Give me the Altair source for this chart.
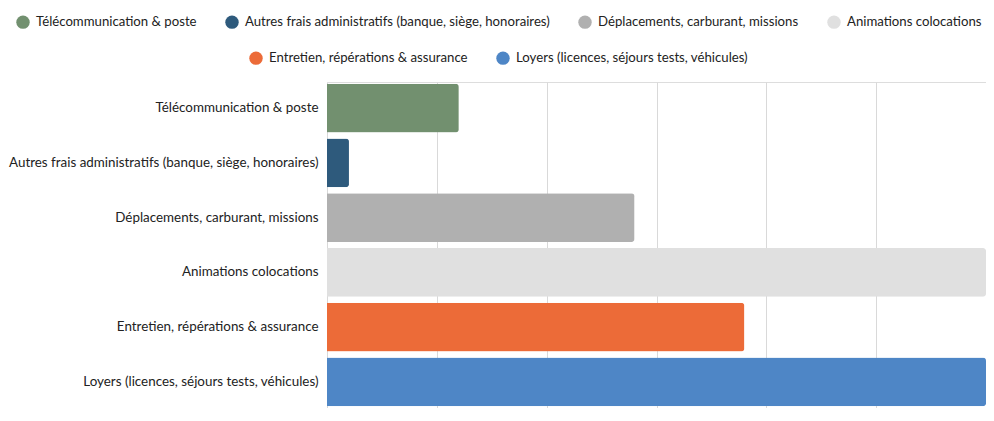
import altair as alt
import pandas as pd

categories = [
    "Télécommunication & poste",
    "Autres frais administratifs (banque, siège, honoraires)",
    "Déplacements, carburant, missions",
    "Animations colocations",
    "Entretien, répérations & assurance",
    "Loyers (licences, séjours tests, véhicules)",
]
values = [6, 1, 14, 30, 19, 30]
colors = ["#72906F", "#2E5A7C", "#B0B0B0", "#E0E0E0", "#EC6B38", "#4E86C6"]
x_ticks = [0, 5, 10, 15, 20, 25, 30]

df = pd.DataFrame({"cat": categories, "val": values})

FONT = "Lato"
FS = 13.4
LFS = 13.2

scale = alt.Scale(domain=categories, range=colors)

y_enc = alt.Y("cat:N", sort=categories, title=None,
              scale=alt.Scale(paddingInner=0.11, paddingOuter=0.03),
              axis=alt.Axis(labelLimit=500, ticks=False, domain=False, labelPadding=9,
                            labelFont=FONT, labelFontSize=FS, labelColor="#222222", grid=False))
x_enc = alt.X("val:Q", title=None,
              scale=alt.Scale(domain=[0, 30], nice=False),
              axis=alt.Axis(values=x_ticks, ticks=False, domain=False, grid=True,
                            gridColor="#D9D9D9", labelFont=FONT, labelFontSize=FS,
                            labelColor="#222222", labelPadding=0, orient="bottom"))

legend_common = dict(orient="none", direction="horizontal", symbolType="circle",
                     symbolSize=180, symbolStrokeWidth=0, labelFont=FONT, labelFontSize=LFS,
                     labelColor="#222222", labelOffset=6, columnPadding=28, labelLimit=500,
                     title=None)

bars1 = alt.Chart(df).mark_bar(cornerRadiusEnd=3).encode(
    y=y_enc, x=x_enc,
    color=alt.Color("cat:N", scale=scale,
                    legend=alt.Legend(values=categories[:4], legendX=-311, legendY=-67,
                                      **legend_common)),
)
bars2 = alt.Chart(df).mark_bar(cornerRadiusEnd=3, opacity=0).encode(
    y=y_enc, x=x_enc,
    fill=alt.Fill("cat:N", scale=scale,
                  legend=alt.Legend(values=categories[4:], legendX=-78, legendY=-31,
                                    **legend_common)),
)

chart = alt.layer(bars1, bars2).resolve_scale(color="independent", fill="independent").properties(
    width=659, height=326,
    autosize=alt.AutoSizeParams(type="none"),
    padding={"left": 319, "top": 74, "right": 0, "bottom": 0},
).configure_view(stroke=None).configure(background="white")

chart.save("out.html", embed_options={"renderer": "svg", "actions": False})
